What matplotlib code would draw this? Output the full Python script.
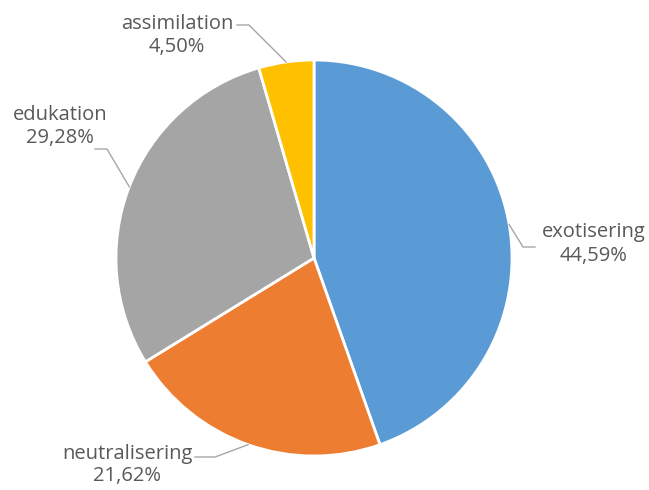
import numpy as np
import matplotlib.pyplot as plt

# data
labels = ['exotisering', 'neutralisering', 'edukation', 'assimilation']
shares = [44.59, 21.62, 29.28, 4.50]
colors = ['#5B9BD5', '#ED7D31', '#A5A5A5', '#FFC000']

W, H = 649, 490
fig = plt.figure(figsize=(W / 100, H / 100), dpi=100)
ax = fig.add_axes([0, 0, 1, 1])

cx, cy, r = 314, H - 258, 198
wedges, _ = ax.pie(shares, colors=colors, startangle=90, counterclock=False,
                   center=(cx, cy), radius=r, frame=True,
                   wedgeprops=dict(edgecolor='white', linewidth=2))
ax.set_xlim(0, W)
ax.set_ylim(0, H)
ax.set_aspect('equal')
ax.axis('off')

# label block centre (x, y in image px) and the elbow of the leader line
label_pos = {
    'exotisering': (594, 244),
    'neutralisering': (127, 465),
    'edukation': (60, 127),
    'assimilation': (177, 36),
}
elbows = {
    'exotisering': [(535, 247), (523, 247)],
    'neutralisering': [(195, 457), (215, 457)],
    'edukation': [(95, 149), (107, 149)],
    'assimilation': [(237, 25), (249, 25)],
}

for w, lab, s in zip(wedges, labels, shares):
    ang = np.deg2rad((w.theta1 + w.theta2) / 2)
    px, py = cx + r * np.cos(ang), cy + r * np.sin(ang)
    tx, ty = label_pos[lab]
    txt = f"{lab}\n{s:.2f}%".replace('.', ',')
    ax.text(tx, H - ty, txt, ha='center', va='center', fontsize=14.5,
            family='Open Sans', color='#595959', linespacing=1.2)
    pts = elbows[lab]
    xs = [p[0] for p in pts] + [px]
    ys = [H - p[1] for p in pts] + [py]
    ax.plot(xs, ys, color='#A6A6A6', linewidth=1)

fig.savefig('out.png', dpi=100, facecolor='white')
